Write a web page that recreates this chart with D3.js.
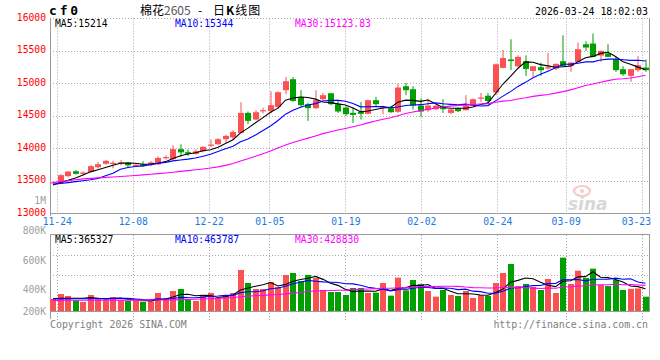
<!DOCTYPE html>
<html><head><meta charset="utf-8">
<script src="https://cdn.jsdelivr.net/npm/d3@7/dist/d3.min.js"></script>
<style>body{margin:0;background:#fff}svg{display:block}</style>
</head><body><svg id="c" width="660" height="360"></svg>
<script>
// ---------- data ----------
const dates = ["11-21","11-24","11-25","11-26","11-27","11-28",
 "12-01","12-02","12-03","12-04","12-05","12-08","12-09","12-10","12-11","12-12",
 "12-15","12-16","12-17","12-18","12-19","12-22","12-23","12-24","12-25","12-26",
 "12-29","12-30","12-31","01-05","01-06","01-07","01-08","01-09",
 "01-12","01-13","01-14","01-15","01-16","01-19","01-20","01-21","01-22","01-23",
 "01-26","01-27","01-28","01-29","01-30","02-02","02-03","02-04","02-05","02-06",
 "02-09","02-10","02-11","02-12","02-13","02-24","02-25","02-26","02-27",
 "03-02","03-03","03-04","03-05","03-06","03-09","03-10","03-11","03-12","03-13",
 "03-16","03-17","03-18","03-19","03-20","03-23","03-24"];
const open  = [13470,13470,13575,13650,13620,13640,13712,13765,13775,13785,13785,13735,13755,13745,13755,13860,13835,13990,13943,13918,13958,14045,14066,14143,14170,14240,14548,14446,14580,14578,14640,14897,15066,14794,14682,14620,14758,14850,14682,14630,14548,14564,14533,14743,14630,14620,14564,14958,14912,14661,14589,14605,14655,14548,14620,14589,14658,14770,14812,14862,15240,15370,15266,15343,15194,15250,15240,15230,15343,15266,15333,15604,15615,15430,15461,15369,15220,15117,15205,15245];
const high  = [13495,13605,13650,13670,13648,13745,13790,13825,13810,13820,13790,13765,13805,13805,13880,13897,14050,14065,13985,13990,14035,14138,14160,14210,14280,14712,14570,14590,14630,14880,14880,15100,15100,14897,14702,14897,14855,14852,14753,14650,14630,14717,14753,14794,14661,14640,15000,15010,14958,14769,14769,14670,14758,14610,14635,14820,14770,14855,14855,15308,15515,15680,15435,15435,15270,15322,15471,15308,15743,15325,15630,15650,15770,15505,15604,15410,15266,15222,15420,15369];
const low   = [13460,13465,13558,13600,13585,13635,13692,13750,13695,13740,13700,13725,13715,13725,13750,13830,13820,13870,13886,13905,13938,14020,14050,14080,14130,14231,14375,14435,14540,14540,14620,14835,14717,14630,14425,14610,14732,14666,14548,14497,14394,14446,14528,14651,14528,14550,14548,14820,14600,14487,14563,14590,14548,14530,14560,14585,14650,14717,14682,14820,15235,15205,15255,15117,15102,15117,15215,15205,15255,15179,15330,15500,15405,15333,15405,15179,15117,15025,15179,15179];
const close = [13480,13590,13645,13610,13630,13728,13758,13810,13780,13790,13740,13750,13730,13785,13855,13868,13990,13940,13918,13958,14025,14060,14143,14194,14255,14548,14425,14558,14590,14666,14866,15035,14732,14666,14620,14743,14820,14682,14569,14528,14517,14533,14743,14682,14645,14558,14938,14897,14661,14569,14661,14658,14605,14600,14574,14661,14758,14785,14731,15295,15392,15345,15410,15225,15266,15205,15248,15302,15271,15322,15528,15554,15410,15502,15410,15205,15143,15220,15282,15205];
const volume = [198000,280000,248000,176000,149000,264000,215000,176000,231000,176000,165000,165000,154000,154000,297000,215000,330000,363000,182000,165000,264000,297000,209000,248000,297000,677000,462000,363000,363000,479000,396000,594000,627000,495000,594000,545000,347000,314000,314000,264000,380000,380000,297000,303000,462000,253000,550000,341000,512000,446000,330000,237000,347000,264000,248000,330000,215000,264000,248000,462000,627000,776000,413000,446000,396000,347000,528000,297000,880000,446000,665000,545000,698000,429000,413000,512000,347000,365000,372000,236000];
// moving-average values before enough history is on the chart
const ma5Head  = [13440,13478,13510,13545];
const ma10Head = [13450,13462,13475,13490,13505,13520,13540,13580,13620];
const ma30Head = [13475,13490,13505,13520,13533,13540,13548,13556,13562,13570,13578,13585,13594,13603,13613,13623,13635,13648,13660,13672,13685,13700,13717,13740,13770,13808,13843,13880,13920];
const vma5Head  = [205000,208000,210000,210000];
const vma10Head = [200000,200000,201000,202000,203000,204000,205000,207000,209000];
const vma30Head = [176000,176000,177000,177000,177000,178000,178000,178000,179000,179000,179000,180000,180000,181000,181000,182000,184000,187000,190000,194000,198000,203000,208000,214000,220000,236000,245000,252000,258000];
const priceTicks = [13000,13500,14000,14500,15000,15500,16000];
const volLabelTicks = [1000000,800000,600000,400000,200000];
const dateTicks = ["11-24","12-08","12-22","01-05","01-19","02-02","02-24","03-09","03-23"];
const priceLegend = ["MA5:15214","MA10:15344","MA30:15123.83"];
const volLegend = ["MA5:365327","MA10:463787","MA30:428830"];
const titleName = "棉花", titleCode = "2605", titleKind = ["日","K","线图"];
const symbol = "cf0", stamp = "2026-03-24 18:02:03";

// ---------- setup ----------
const RED = "#fa5252", GREEN = "#00a000", GRID = "#a8a8a8", AX = "#9a9a9a";
const MONO = "'DejaVu Sans Mono', 'Liberation Mono', monospace";
const svg = d3.select("#c");
svg.append("rect").attr("width",660).attr("height",360).attr("fill","#fff");

const x = d3.scaleBand().domain(dates).range([50, 650]).padding(0);
const gridX = d3.scaleLinear().domain([0, dates.length - 1]).range([49.7, 649.7]);
const y = d3.scaleLinear().domain([13000, 16000]).range([213.5, 18.5]);
const yv = d3.scaleLinear().domain([0, 1265000]).range([311, 234.3]);
const yvLabel = d3.scaleLinear().domain([200000, 1000000]).range([319.5, 200.5]);
const pal = ["#000000", "#0000ff", "#ff00ff"];

function ma(arr, n, head) {
  return arr.map((v, i) => i < n - 1 ? head[i] : d3.mean(arr.slice(i - n + 1, i + 1)));
}
const px = v => Math.floor(v) + 0.5;

// ---------- grids ----------
const g = svg.append("g");
priceTicks.forEach(t => {
  if (t === 13000) return;
  g.append("line").attr("x1", 50).attr("x2", 649.5).attr("y1", px(y(t))).attr("y2", px(y(t)))
    .attr("stroke", GRID).attr("stroke-dasharray", "1,2");
});
const vGridYs = d3.range(1, 3).map(k => 234.3 + k * 20.7);
vGridYs.forEach(v => g.append("line").attr("x1", 50).attr("x2", 649.5).attr("y1", px(v)).attr("y2", px(v))
    .attr("stroke", GRID).attr("stroke-dasharray", "1,2"));
dateTicks.forEach(d => {
  const xx = px(gridX(dates.indexOf(d)));
  g.append("line").attr("x1", xx).attr("x2", xx).attr("y1", 18.5).attr("y2", 213)
    .attr("stroke", GRID).attr("stroke-dasharray", "1,2");
  g.append("line").attr("x1", xx).attr("x2", xx).attr("y1", 235).attr("y2", 320)
    .attr("stroke", GRID).attr("stroke-dasharray", "1,2");
});

// ---------- frames ----------
const f = svg.append("g").attr("stroke", AX).attr("fill", "none");
f.append("line").attr("x1", 50.5).attr("x2", 50.5).attr("y1", 18).attr("y2", 216);
f.append("line").attr("x1", 649.5).attr("x2", 649.5).attr("y1", 18).attr("y2", 214);
f.append("line").attr("x1", 50).attr("x2", 650).attr("y1", 213.5).attr("y2", 213.5);
f.append("line").attr("x1", 50).attr("x2", 650).attr("y1", 234.5).attr("y2", 234.5);
f.append("line").attr("x1", 50.5).attr("x2", 50.5).attr("y1", 234).attr("y2", 319);
f.append("line").attr("x1", 649.5).attr("x2", 649.5).attr("y1", 234).attr("y2", 312);
f.append("line").attr("x1", 50).attr("x2", 650).attr("y1", 311.5).attr("y2", 311.5);

// ---------- watermark ----------
const wm = svg.append("g").attr("opacity", 0.55);
wm.append("ellipse").attr("cx", 582).attr("cy", 191).attr("rx", 8).attr("ry", 5)
  .attr("fill", "none").attr("stroke", "#f2a0a0").attr("stroke-width", 2.2);
wm.append("circle").attr("cx", 582).attr("cy", 191).attr("r", 2).attr("fill", "#f2a0a0");
wm.append("text").attr("x", 568).attr("y", 210).attr("font-family", "'DejaVu Sans', sans-serif")
  .attr("font-size", 17).attr("font-style", "italic").attr("font-weight", "bold").attr("fill", "#b8b8b8").text("sina");

// ---------- candles ----------
const cg = svg.append("g");
dates.forEach((d, i) => {
  const col = close[i] >= open[i] ? RED : GREEN;
  const x0 = Math.round(x(d));
  cg.append("rect").attr("x", x0 + 2.5).attr("width", 1)
    .attr("y", y(high[i])).attr("height", Math.max(1, y(low[i]) - y(high[i]))).attr("fill", col);
  const top = y(Math.max(open[i], close[i])), bot = y(Math.min(open[i], close[i]));
  cg.append("rect").attr("x", x0).attr("width", 6)
    .attr("y", top).attr("height", Math.max(1.2, bot - top)).attr("fill", col);
  // volume
  cg.append("rect").attr("x", x0).attr("width", 6)
    .attr("y", yv(volume[i])).attr("height", 311 - yv(volume[i])).attr("fill", col);
});

// ---------- moving averages ----------
const cx = d => x(d) + 3;
const priceMA = [ma(close, 5, ma5Head), ma(close, 10, ma10Head), ma(close, 30, ma30Head)];
const volMA = [ma(volume, 5, vma5Head), ma(volume, 10, vma10Head), ma(volume, 30, vma30Head)];
priceMA.forEach((s, k) => {
  svg.append("path").attr("fill", "none").attr("stroke", pal[k]).attr("stroke-width", 1.1)
    .attr("d", d3.line().x((v, i) => cx(dates[i])).y(v => y(v))(s));
});
volMA.forEach((s, k) => {
  svg.append("path").attr("fill", "none").attr("stroke", pal[k]).attr("stroke-width", 1.1)
    .attr("d", d3.line().x((v, i) => cx(dates[i])).y(v => yv(v))(s));
});

// ---------- text ----------
const T = svg.append("g").attr("font-family", MONO).attr("font-size", 9.7);
priceTicks.forEach(t => T.append("text").attr("x", 46).attr("y", y(t) + 2)
  .attr("text-anchor", "end").attr("fill", "#ff0000").text(t));
const fmtV = v => v >= 1e6 ? (v / 1e6) + "M" : (v / 1000) + "K";
volLabelTicks.forEach(v => T.append("text").attr("x", 46).attr("y", Math.min(yvLabel(v), 311) + 3.5)
  .attr("text-anchor", "end").attr("fill", "#a0a0a0").text(fmtV(v)));
dateTicks.forEach(d => {
  const t = T.append("text").attr("y", 225).attr("fill", "#1a78e0").attr("text-anchor", "middle").text(d);
  const w = t.node().getComputedTextLength();
  let xx = gridX(dates.indexOf(d));
  xx = Math.min(xx, 651 - w / 2);
  t.attr("x", xx);
});
const legX = [55, 175, 295];
priceLegend.forEach((s, k) => T.append("text").attr("x", legX[k]).attr("y", 27).attr("fill", pal[k]).text(s));
volLegend.forEach((s, k) => T.append("text").attr("x", legX[k]).attr("y", 242.5).attr("fill", pal[k]).text(s));
T.append("text").attr("x", 648).attr("y", 15).attr("text-anchor", "end").attr("fill", "#000").attr("font-size", 9.9).text(stamp);
T.append("text").attr("x", 50).attr("y", 327.5).attr("fill", "#808080").attr("font-size", 9.9).text("Copyright 2026 SINA.COM");
T.append("text").attr("x", 648).attr("y", 327.5).attr("text-anchor", "end").attr("fill", "#808080").attr("font-size", 9.9).text("http://finance.sina.com.cn");
svg.append("text").attr("x", 49).attr("y", 15).attr("font-family", MONO).attr("font-size", 13)
  .attr("font-weight", "bold").attr("letter-spacing", 2.8).attr("fill", "#000").text(symbol);
const tt = svg.append("text").attr("x", 140).attr("y", 14.5)
  .attr("font-family", "'Noto Sans CJK SC', sans-serif").attr("font-size", 12).attr("fill", "#000");
tt.append("tspan").text(titleName);
tt.append("tspan").attr("fill", "#555").text(titleCode);
svg.append("text").attr("x", 200).attr("y", 14.5).attr("text-anchor", "middle")
  .attr("font-family", "'Noto Sans CJK SC', sans-serif").attr("font-size", 12).text("-");
const tk = svg.append("text").attr("x", 213).attr("y", 14.5)
  .attr("font-family", "'Noto Sans CJK SC', sans-serif").attr("font-size", 12).attr("letter-spacing", 1);
tk.append("tspan").text(titleKind[0]);
tk.append("tspan").attr("font-weight", "bold").text(titleKind[1]);
tk.append("tspan").text(titleKind[2]);
</script></body></html>
